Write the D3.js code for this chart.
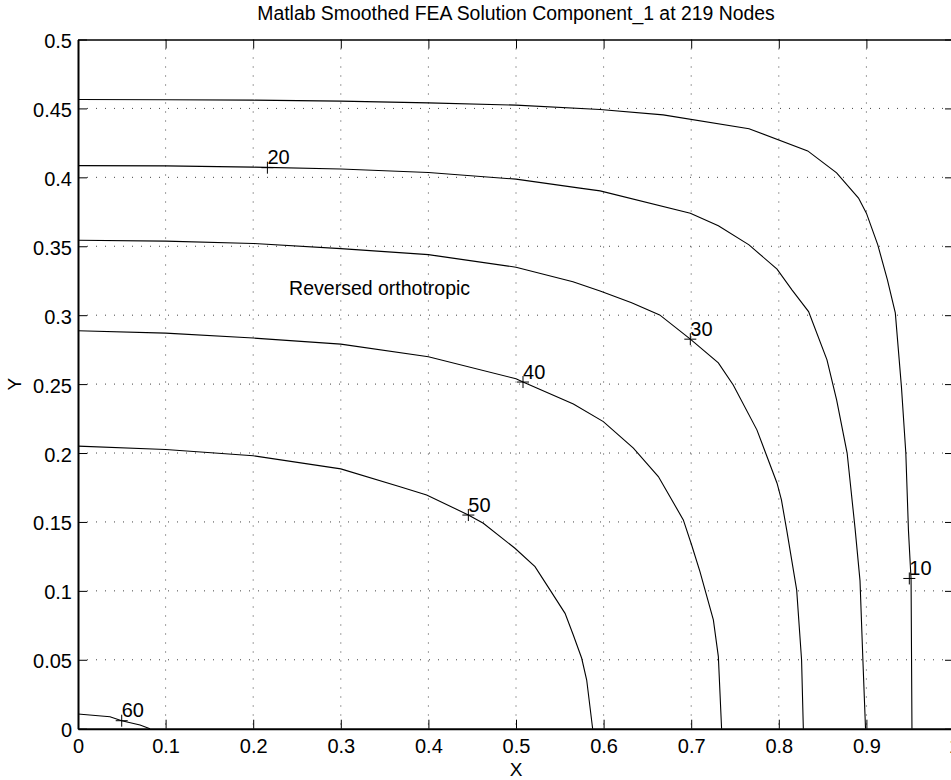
<!DOCTYPE html>
<html>
<head>
<meta charset="utf-8">
<script src="https://cdn.jsdelivr.net/npm/d3@7"></script>
<style>
  body { margin: 0; background: #fff; }
  svg text { font-family: "Liberation Sans", Arial, Helvetica, sans-serif; fill: #000; }
  .grid line { stroke: #444; stroke-width: 1; stroke-dasharray: 1,8; }
  .contour { fill: none; stroke: #000; stroke-width: 1.1; }
  .axis path, .axis line { stroke: #000; }
</style>
</head>
<body>
<div id="chart"></div>
<script>
// contour polylines, [x, y] in data units
var level10 = [[0,0.4565],[0.1,0.4563],[0.2,0.456],[0.3,0.4553],[0.4,0.454],[0.5,0.4524],[0.596,0.4492],[0.668,0.4453],[0.766,0.4352],[0.833,0.4192],[0.866,0.4032],[0.891,0.385],[0.9,0.374],[0.913,0.351],[0.924,0.3256],[0.933,0.3017],[0.94,0.248],[0.945,0.2],[0.948,0.144],[0.951,0.108],[0.952,0]];
var level20 = [[0,0.4085],[0.1,0.4083],[0.2,0.4074],[0.3,0.406],[0.4,0.4035],[0.5,0.3987],[0.573,0.3922],[0.596,0.3902],[0.699,0.374],[0.731,0.3648],[0.766,0.351],[0.798,0.3334],[0.815,0.3184],[0.834,0.3026],[0.855,0.2676],[0.866,0.2385],[0.878,0.2],[0.887,0.1457],[0.8927,0.1074],[0.896,0.0496],[0.899,0]];
var level30 = [[0,0.3544],[0.1,0.3537],[0.2,0.352],[0.3,0.3483],[0.4,0.3439],[0.5,0.3348],[0.565,0.3243],[0.596,0.3176],[0.632,0.3091],[0.664,0.3002],[0.699,0.2826],[0.731,0.2654],[0.748,0.2494],[0.775,0.2168],[0.798,0.1781],[0.803,0.166],[0.809,0.1442],[0.8204,0.1007],[0.826,0.0499],[0.828,0]];
var level40 = [[0,0.2887],[0.1,0.287],[0.2,0.2834],[0.3,0.279],[0.4,0.2699],[0.5,0.2539],[0.508,0.2515],[0.5655,0.2355],[0.5997,0.2228],[0.634,0.2035],[0.6625,0.1829],[0.691,0.1515],[0.7005,0.1333],[0.71,0.114],[0.7253,0.0789],[0.731,0.0523],[0.7347,0]];
var level50 = [[0,0.205],[0.1,0.2025],[0.2,0.198],[0.3,0.1885],[0.3676,0.1756],[0.398,0.1696],[0.432,0.1592],[0.4456,0.155],[0.4627,0.149],[0.4988,0.1309],[0.5217,0.1176],[0.5388,0.1007],[0.556,0.0837],[0.5654,0.068],[0.575,0.0511],[0.5807,0.0353],[0.5875,0]];
var level60 = [[0,0.0107],[0.0365,0.0087],[0.0499,0.0058],[0.0708,0.0027],[0.0822,0]];

var levels = [10, 20, 30, 40, 50, 60];
var labelX = [0.949, 0.2162, 0.699, 0.508, 0.4456, 0.0499];
var labelY = [0.109, 0.407, 0.2826, 0.2515, 0.155, 0.0058];

var xTicks = [0, 0.1, 0.2, 0.3, 0.4, 0.5, 0.6, 0.7, 0.8, 0.9, 1];
var yTicks = [0, 0.05, 0.1, 0.15, 0.2, 0.25, 0.3, 0.35, 0.4, 0.45, 0.5];

function contourPlot(id) {
    var width = 951, height = 780;
    // right edge sits just off the page, like the original
    var x0 = 78, x1 = 954, y0 = 728.7, y1 = 39.5;

    var x = d3.scaleLinear().domain([0, 1]).range([x0, x1]);
    var y = d3.scaleLinear().domain([0, 0.5]).range([y0, y1]);

    var svg = d3.select("#" + id).append("svg")
        .attr("width", width)
        .attr("height", height);

    // dotted grid
    var grid = svg.append("g").attr("class", "grid");
    grid.selectAll(".gx")
        .data(xTicks.slice(1, -1))
        .enter().append("line")
            .attr("x1", function(d) { return x(d); })
            .attr("x2", function(d) { return x(d); })
            .attr("y1", y1)
            .attr("y2", y0);
    grid.selectAll(".gy")
        .data(yTicks.slice(1, -1))
        .enter().append("line")
            .attr("x1", x0)
            .attr("x2", x1)
            .attr("y1", function(d) { return y(d); })
            .attr("y2", function(d) { return y(d); });

    // contours
    var line = d3.line()
        .x(function(d) { return x(d[0]); })
        .y(function(d) { return y(d[1]); });

    svg.append("g").selectAll(".contour")
        .data([level10, level20, level30, level40, level50, level60])
        .enter().append("path")
            .attr("class", "contour")
            .attr("d", line);

    // contour labels: a small plus and the level
    var labels = svg.append("g").selectAll(".clabel")
        .data(levels)
        .enter().append("g")
            .attr("class", "clabel")
            .attr("transform", function(d, i) { return "translate(" + x(labelX[i]) + "," + y(labelY[i]) + ")"; });
    labels.append("path")
        .attr("d", "M-6,0H6M0,-6V6")
        .attr("stroke", "#000")
        .attr("stroke-width", 1);
    labels.append("text")
        .attr("x", 0)
        .attr("y", -3.5)
        .style("font-size", "20px")
        .text(function(d) { return d; });

    svg.append("text")
        .attr("x", x(0.241))
        .attr("y", y(0.3147))
        .style("font-size", "19.5px")
        .text("Reversed orthotropic");

    // axes, ticks point inward on all four sides
    var fmt = function(d) { return d3.format("~g")(d); };

    svg.append("g")
        .attr("class", "axis")
        .attr("transform", "translate(0," + y0 + ")")
        .call(d3.axisBottom(x).tickValues(xTicks).tickFormat(fmt).tickSize(-9).tickSizeOuter(0).tickPadding(10))
        .call(function(g) { g.select(".domain").attr("stroke-width", 2); })
        .selectAll("text").style("font-size", "20px");

    svg.append("g")
        .attr("class", "axis")
        .attr("transform", "translate(" + x0 + ",0)")
        .call(d3.axisLeft(y).tickValues(yTicks).tickFormat(fmt).tickSize(-9).tickSizeOuter(0).tickPadding(6))
        .call(function(g) { g.select(".domain").attr("stroke-width", 2); })
        .selectAll("text").style("font-size", "20px").attr("dy", "0.4em");

    svg.append("g")
        .attr("class", "axis")
        .attr("transform", "translate(0," + y1 + ")")
        .call(d3.axisTop(x).tickValues(xTicks).tickFormat("").tickSize(-9).tickSizeOuter(0))
        .call(function(g) { g.select(".domain").attr("stroke-width", 1.3); });

    svg.append("g")
        .attr("class", "axis")
        .attr("transform", "translate(" + x1 + ",0)")
        .call(d3.axisRight(y).tickValues(yTicks).tickFormat("").tickSize(-9).tickSizeOuter(0));

    // title and axis labels
    svg.append("text")
        .attr("x", (x0 + x1) / 2)
        .attr("y", 20)
        .attr("text-anchor", "middle")
        .style("font-size", "19.4px")
        .text("Matlab Smoothed FEA Solution Component_1 at 219 Nodes");

    svg.append("text")
        .attr("x", (x0 + x1) / 2)
        .attr("y", 776)
        .attr("text-anchor", "middle")
        .style("font-size", "19px")
        .text("X");

    svg.append("text")
        .attr("transform", "translate(21," + y(0.25) + ")rotate(-90)")
        .attr("text-anchor", "middle")
        .style("font-size", "19px")
        .text("Y");
}

contourPlot("chart");
</script>
</body>
</html>
